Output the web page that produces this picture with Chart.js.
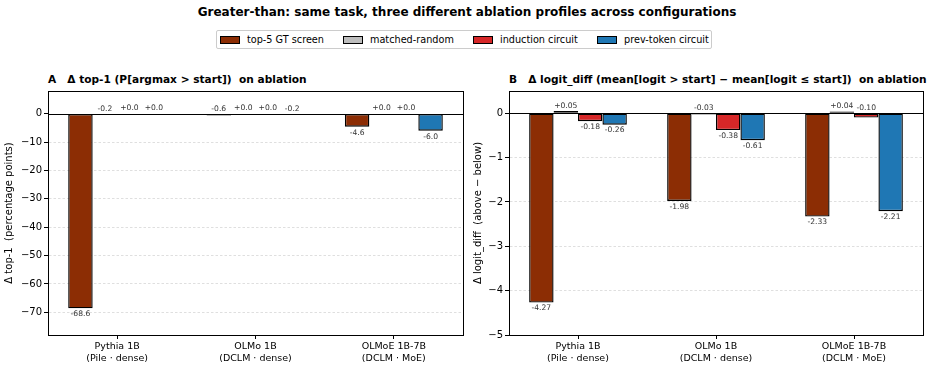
<!DOCTYPE html>
<html>
<head>
<meta charset="utf-8">
<script src="https://cdn.jsdelivr.net/npm/chart.js@4.4.1/dist/chart.umd.min.js"></script>
<style>
  html, body { margin: 0; padding: 0; background: #fff; }
  body { width: 934px; height: 392px; position: relative; overflow: hidden; font-family: "DejaVu Sans", sans-serif; }
  .abs { position: absolute; }
  #mainTitle { left: 0; width: 934px; top: 4px; text-align: center; font-weight: bold; font-size: 12px; line-height: 16px; }
  #legend { left: 216px; top: 30px; width: 494px; height: 17px; border: 1px solid #cccccc; border-radius: 2px; box-sizing: content-box; }
  .lg-item { position: absolute; top: 0; height: 17px; display: flex; align-items: center; font-size: 9.7px; white-space: nowrap; }
  .lg-box { width: 18px; height: 6px; border: 1px solid #000; margin-right: 7px; }
  .ptitle { top: 72px; font-weight: bold; font-size: 10.6px; line-height: 14px; white-space: pre; }
  canvas { position: absolute; top: 0; }
</style>
</head>
<body>
<div id="mainTitle" class="abs">Greater-than: same task, three different ablation profiles across configurations</div>
<div id="legend" class="abs"></div>
<div id="titleA" class="abs ptitle" style="left:48px;">A   Δ top-1 (P[argmax &gt; start])  on ablation</div>
<div id="titleB" class="abs ptitle" style="left:509px;">B   Δ logit_diff (mean[logit &gt; start] − mean[logit ≤ start])  on ablation</div>
<canvas id="cA" width="467" height="392" style="left:0px;"></canvas>
<canvas id="cB" width="467" height="392" style="left:467px;"></canvas>
<script>
// ---- data ----
const categories = [["Pythia 1B", "(Pile · dense)"], ["OLMo 1B", "(DCLM · dense)"], ["OLMoE 1B-7B", "(DCLM · MoE)"]];
const seriesNames = ["top-5 GT screen", "matched-random", "induction circuit", "prev-token circuit"];
const seriesColors = ["#8c2d04", "#bdbdbd", "#d62728", "#1f77b4"];

// Panel A: Δ top-1 (percentage points)
const top1_gtScreen   = [-68.6, -0.6, -4.6];
const top1_matchedRnd = [-0.2, 0.0, 0.0];
const top1_induction  = [0.0, 0.0, 0.0];
const top1_prevToken  = [0.0, -0.2, -6.0];
const top1_ticks = [0, -10, -20, -30, -40, -50, -60, -70];

// Panel B: Δ logit_diff
const ld_gtScreen   = [-4.27, -1.98, -2.33];
const ld_matchedRnd = [0.05, -0.03, 0.04];
const ld_induction  = [-0.18, -0.38, -0.10];
const ld_prevToken  = [-0.26, -0.61, -2.21];
const ld_ticks = [0, -1, -2, -3, -4, -5];

// ---- legend (HTML, real text) ----
const legendX = [3, 126, 256, 380];
const legendEl = document.getElementById('legend');
seriesNames.forEach((n, i) => {
  const it = document.createElement('div');
  it.className = 'lg-item';
  it.style.left = legendX[i] + 'px';
  const b = document.createElement('div');
  b.className = 'lg-box';
  b.style.background = seriesColors[i];
  const t = document.createElement('span');
  t.textContent = n;
  it.appendChild(b); it.appendChild(t);
  legendEl.appendChild(it);
});

const FONT = "'DejaVu Sans', sans-serif";

const framePlugin = {
  id: 'frame',
  afterDatasetsDraw(chart) {
    const { ctx, chartArea: a, scales } = chart;
    ctx.save();
    const y0 = scales.y.getPixelForValue(0);
    ctx.strokeStyle = '#000';
    ctx.lineWidth = 1;
    ctx.setLineDash([]);
    ctx.beginPath();
    ctx.moveTo(a.left, Math.round(y0) + 0.5);
    ctx.lineTo(a.right, Math.round(y0) + 0.5);
    ctx.stroke();
    ctx.strokeRect(Math.round(a.left) + 0.5, Math.round(a.top) + 0.5, Math.round(a.right - a.left), Math.round(a.bottom - a.top));
    ctx.restore();
  }
};

const valueLabelPlugin = {
  id: 'valueLabels',
  afterDatasetsDraw(chart, args, opts) {
    const { ctx } = chart;
    ctx.save();
    ctx.font = "7.6px " + FONT;
    ctx.fillStyle = '#333';
    ctx.textAlign = 'center';
    chart.data.datasets.forEach((ds, di) => {
      const meta = chart.getDatasetMeta(di);
      meta.data.forEach((bar, i) => {
        const v = ds.data[i];
        const txt = (v >= 0 ? '+' : '') + v.toFixed(opts.decimals);
        if (v < opts.threshold) {
          ctx.textBaseline = 'top';
          ctx.fillText(txt, bar.x, bar.y + 2);
        } else {
          ctx.textBaseline = 'bottom';
          ctx.fillText(txt, bar.x, Math.min(bar.y, bar.base) - 1.5);
        }
      });
    });
    ctx.restore();
  }
};

function makeChart(id, seriesData, yMin, yMax, ticksList, yTitle, decimals, threshold, pad, yWidth, titlePad) {
  const datasets = seriesData.map((d, i) => ({
    label: seriesNames[i],
    data: d,
    backgroundColor: seriesColors[i],
    borderColor: '#000',
    borderWidth: 1.4,
    borderSkipped: false,
    categoryPercentage: 0.708,
    barPercentage: 1.0
  }));
  return new Chart(document.getElementById(id), {
    type: 'bar',
    data: { labels: categories, datasets },
    options: {
      responsive: false,
      animation: false,
      devicePixelRatio: 1,
      layout: { padding: pad },
      plugins: {
        legend: { display: false },
        title: { display: false },
        tooltip: { enabled: false },
        valueLabels: { decimals, threshold }
      },
      scales: {
        x: {
          offset: true,
          grid: { display: true, drawOnChartArea: false, drawTicks: true, tickLength: 4, offset: false, tickColor: '#000', tickWidth: 1 },
          border: { display: true, color: '#000', width: 1 },
          ticks: { color: '#000', font: { family: FONT, size: 9.5 }, padding: 2, maxRotation: 0, autoSkip: false },
          afterFit(s) { s.height = 30; }
        },
        y: {
          min: yMin, max: yMax,
          afterBuildTicks(s) { s.ticks = ticksList.map(v => ({ value: v })); },
          grid: {
            color: (c) => (c.tick && c.tick.value === 0) ? 'rgba(0,0,0,0)' : 'rgba(0,0,0,0.16)',
            lineWidth: 0.8,
            drawTicks: true, tickLength: 4, tickColor: '#000', tickWidth: 1, tickBorderDash: []
          },
          border: { display: true, color: '#000', width: 1, dash: [2.5, 2] },
          ticks: {
            color: '#000', font: { family: FONT, size: 10 }, padding: 2,
            callback: (v) => (v < 0 ? '\u2212' + Math.abs(v) : String(v))
          },
          title: { display: true, text: yTitle, color: '#000', font: { family: FONT, size: 10 }, padding: titlePad },
          afterFit(s) { s.width = yWidth; }
        }
      }
    },
    plugins: [framePlugin, valueLabelPlugin]
  });
}

makeChart('cA', [top1_gtScreen, top1_matchedRnd, top1_induction, top1_prevToken],
  -78, 8, top1_ticks, 'Δ top-1  (percentage points)', 1, -2,
  { left: 0, top: 91, right: 4, bottom: 27 }, 48, { top: 3, bottom: 4 });

makeChart('cB', [ld_gtScreen, ld_matchedRnd, ld_induction, ld_prevToken],
  -5, 0.5, ld_ticks, 'Δ logit_diff  (above − below)', 2, -0.15,
  { left: 0, top: 91, right: 11, bottom: 27 }, 42, { top: 5, bottom: 4 });
</script>
</body>
</html>
